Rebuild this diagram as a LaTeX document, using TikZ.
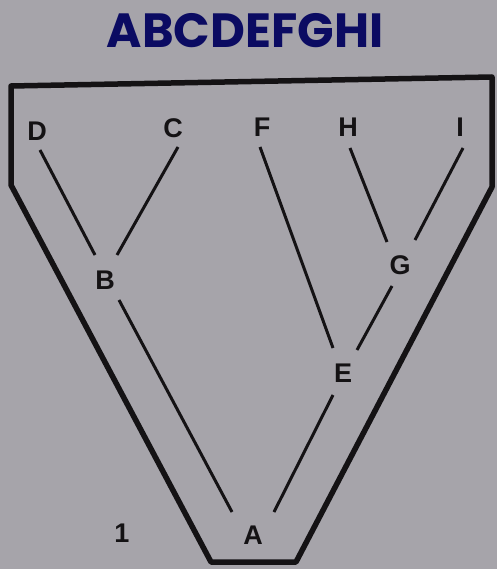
\documentclass[tikz,border=0pt]{standalone}
\usepackage{fontspec}
\setmainfont{Liberation Sans}
\newfontfamily\titlefont{Poppins}
\usetikzlibrary{calc}
\definecolor{bgc}{HTML}{A6A4AA}
\definecolor{titlec}{HTML}{0B0B62}
\definecolor{inkc}{HTML}{141214}
\begin{document}
\begin{tikzpicture}[x=1pt,y=-1pt,
  lbl/.style={inner sep=0pt,text=inkc,font=\fontsize{27}{27}\selectfont\bfseries},
  edge/.style={draw=inkc,line width=3pt},
  frame/.style={draw=inkc,line width=5.5pt,line join=round}]
\fill[bgc] (0,0) rectangle (497,569);
\useasboundingbox (0,0) rectangle (497,569);
\node[inner sep=0pt,text=titlec,font=\titlefont\fontsize{48}{48}\selectfont\bfseries] (title) at (245,31) {ABCDEFGHI};
\path[frame] (11,86) -- (492,77) -- (492,187) -- (296,562) -- (211,562) -- (11,185) -- cycle;
\node[lbl] (D) at (37,131) {D};
\node[lbl] (C) at (173,128) {C};
\node[lbl] (F) at (262,127) {F};
\node[lbl] (H) at (348,127) {H};
\node[lbl] (I) at (460,127) {I};
\node[lbl] (B) at (105,280) {B};
\node[lbl] (G) at (400,265) {G};
\node[lbl] (E) at (343,373) {E};
\node[lbl] (A) at (253,535) {A};
\node[lbl] (one) at (122,533) {1};
\draw[edge] ($(D)+(3,19)$) -- ($(B)+(-10,-25)$);
\draw[edge] ($(C)+(5,19)$) -- ($(B)+(12,-25)$);
\draw[edge] ($(B)+(14,20)$) -- ($(A)+(-21,-23)$);
\draw[edge] ($(F)+(-2,20)$) -- ($(E)+(-10,-25)$);
\draw[edge] ($(H)+(2,21)$) -- ($(G)+(-13,-23)$);
\draw[edge] ($(I)+(3,21)$) -- ($(G)+(15,-25)$);
\draw[edge] ($(G)+(-8,21)$) -- ($(E)+(14,-23)$);
\draw[edge] ($(E)+(-10,22)$) -- ($(A)+(21,-23)$);
\end{tikzpicture}
\end{document}
